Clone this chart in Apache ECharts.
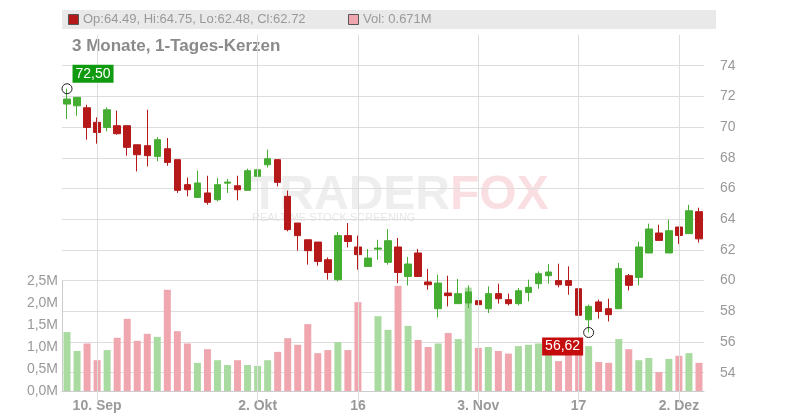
<!DOCTYPE html>
<html>
<head>
<meta charset="utf-8">
<script src="https://cdn.jsdelivr.net/npm/echarts@6/dist/echarts.min.js"></script>
<style>html,body{margin:0;padding:0;background:#fff}#container{width:800px;height:420px}</style>
</head>
<body>
<div id="container"></div>
<script>
// trading days, one slot per candle
const dates = ['05.09','08.09','09.09','10.09','11.09','12.09','15.09','16.09','17.09','18.09',
    '19.09','22.09','23.09','24.09','25.09','26.09','29.09','30.09','01.10','02.10',
    '03.10','06.10','07.10','08.10','09.10','10.10','13.10','14.10','15.10','16.10',
    '17.10','20.10','21.10','22.10','23.10','24.10','27.10','28.10','29.10','30.10',
    '31.10','03.11','04.11','05.11','06.11','07.11','10.11','11.11','12.11','13.11',
    '14.11','17.11','18.11','19.11','20.11','21.11','24.11','25.11','26.11','28.11',
    '01.12','02.12','03.12','04.12'];
const tickLabels = {'10.09': '10. Sep', '02.10': '2. Okt', '16.10': '16', '03.11': '3. Nov', '17.11': '17', '02.12': '2. Dez'};
// [open, close, low, high]
const ohlc = [
    [71.50, 71.83, 70.53, 72.50], [71.39, 71.94, 70.74, 71.94], [71.26, 69.98, 69.18, 71.46], [70.31, 69.65, 68.92, 70.63],
    [69.98, 71.13, 69.72, 71.28], [70.09, 69.57, 69.50, 71.07], [70.09, 68.68, 68.14, 70.09], [68.85, 68.20, 67.11, 68.85],
    [68.79, 68.14, 67.44, 71.13], [68.09, 69.18, 67.77, 69.35], [68.59, 67.70, 67.48, 69.29], [67.88, 65.88, 65.71, 67.88],
    [66.25, 65.92, 65.49, 66.72], [65.42, 66.36, 65.42, 67.16], [65.71, 65.10, 64.94, 66.83], [65.27, 66.25, 65.16, 66.68],
    [66.35, 66.42, 65.71, 66.62], [66.18, 65.92, 65.23, 66.83], [65.88, 67.16, 65.88, 67.29], [66.79, 67.22, 66.14, 67.22],
    [67.55, 67.94, 67.37, 68.53], [67.88, 66.40, 66.14, 67.88], [65.49, 63.32, 63.21, 65.86], [63.75, 62.93, 61.95, 63.75],
    [62.66, 61.95, 61.04, 62.66], [62.51, 61.25, 60.97, 62.51], [61.36, 60.53, 60.06, 61.51], [60.06, 62.93, 59.95, 63.17],
    [62.93, 62.55, 62.16, 63.75], [62.19, 61.69, 60.71, 62.93], [60.92, 61.47, 60.92, 62.06], [62.05, 62.12, 61.36, 62.66],
    [61.19, 62.60, 61.04, 63.36], [62.19, 60.53, 59.84, 62.78], [60.27, 61.08, 59.69, 61.54], [61.80, 60.27, 60.27, 62.06],
    [59.91, 59.73, 59.41, 60.76], [58.17, 59.84, 57.60, 60.38], [59.19, 59.02, 58.32, 60.32], [58.50, 59.15, 58.50, 60.10],
    [58.54, 59.26, 58.21, 59.69], [58.69, 58.43, 57.99, 58.87], [58.17, 59.15, 57.89, 59.62], [59.15, 58.82, 58.50, 59.80],
    [58.76, 58.50, 58.38, 59.15], [58.50, 59.34, 58.38, 59.52], [59.23, 59.56, 58.64, 60.06], [59.80, 60.45, 59.47, 60.60],
    [60.32, 60.56, 59.80, 61.08], [60.00, 59.73, 59.56, 61.10], [60.00, 59.69, 59.08, 60.93], [59.47, 57.74, 57.60, 59.67],
    [57.45, 58.32, 56.62, 58.43], [58.61, 57.99, 57.52, 58.76], [58.17, 57.78, 57.34, 58.82], [58.17, 60.78, 58.17, 61.15],
    [60.32, 59.69, 59.36, 60.43], [60.21, 62.19, 59.69, 62.53], [61.80, 63.36, 61.80, 63.71], [63.10, 62.62, 62.62, 63.64],
    [61.80, 63.25, 61.80, 63.97], [63.49, 62.94, 62.38, 63.49], [63.06, 64.55, 63.06, 64.94], [64.49, 62.72, 62.48, 64.75]
];
// volume in millions (slot 30 has none)
const volume = [1.34, 0.91, 1.08, 0.70, 0.93, 1.21, 1.64, 1.14, 1.30, 1.23,
    2.30, 1.36, 1.08, 0.64, 0.95, 0.70, 0.59, 0.70, 0.59, 0.57,
    0.70, 0.89, 1.20, 1.05, 1.52, 0.86, 0.93, 1.11, 0.93, 2.02,
    null, 1.70, 1.39, 2.39, 1.48, 1.16, 1.00, 1.08, 1.32, 1.18,
    2.35, 0.98, 1.00, 0.91, 0.85, 1.02, 1.05, 1.08, 1.00, 0.68,
    0.95, 1.05, 1.02, 0.66, 0.64, 1.18, 0.95, 0.70, 0.75, 0.43,
    0.73, 0.80, 0.86, 0.64];
const highIdx = 0, highVal = 72.50;
const lowIdx = 52, lowVal = 56.62;

const UP = '#46ad33', DOWN = '#b5191a';
const UP_VOL = '#a9dba1', DOWN_VOL = '#f0a6ae';

let dom = document.getElementById('container');
let myChart = echarts.init(dom);

const volData = volume.map(function (v, i) {
    return {
        value: v === null ? null : v * 1e6,
        itemStyle: {color: ohlc[i][1] >= ohlc[i][0] ? UP_VOL : DOWN_VOL}
    };
});
const gridMarks = dates.filter(function (d) { return tickLabels[d]; })
    .map(function (d) { return {xAxis: d}; });

const option = {
    animation: false,
    backgroundColor: '#fff',
    textStyle: {fontFamily: 'Liberation Sans, Arial, sans-serif'},
    graphic: [
        {type: 'rect', left: 62, top: 10, shape: {width: 654, height: 19}, style: {fill: '#e9e9e9'}, silent: true},
        {type: 'rect', left: 68, top: 14, shape: {width: 10, height: 10}, style: {fill: DOWN, stroke: '#555', lineWidth: 1}},
        {type: 'text', left: 83, top: 13, style: {text: 'Op:64.49, Hi:64.75, Lo:62.48, Cl:62.72', fill: '#999', font: '13px Liberation Sans'}},
        {type: 'rect', left: 348, top: 14, shape: {width: 10, height: 10}, style: {fill: DOWN_VOL, stroke: '#555', lineWidth: 1}},
        {type: 'text', left: 363, top: 13, style: {text: 'Vol: 0.671M', fill: '#999', font: '13px Liberation Sans'}},
        {type: 'text', left: 72, top: 38, style: {text: '3 Monate, 1-Tages-Kerzen', fill: '#8a8a8a', font: 'bold 17px Liberation Sans'}},
        {type: 'text', left: 250, top: 172, z: -1, style: {
            text: '{a|TRADER}{b|FOX}',
            rich: {
                a: {fill: 'rgba(205,205,205,0.35)', font: 'bold 48px Liberation Sans', letterSpacing: -2},
                b: {fill: 'rgba(240,150,160,0.3)', font: 'bold 48px Liberation Sans', letterSpacing: -2}
            }
        }},
        {type: 'text', left: 252, top: 212, z: -1, style: {text: 'REALTIME STOCK SCREENING', fill: 'rgba(200,200,200,0.45)', font: '11px Liberation Sans', letterSpacing: 2}}
    ],
    grid: [
        {left: 62, right: 96, top: 35, bottom: 16.6},
        {left: 62, right: 96, top: 281, bottom: 29}
    ],
    xAxis: [
        {type: 'category', data: dates, gridIndex: 0, show: false},
        {
            type: 'category', data: dates, gridIndex: 1,
            axisLine: {lineStyle: {color: '#ccc'}},
            axisTick: {show: false},
            axisLabel: {
                interval: 0, color: '#999', fontWeight: 'bold', fontSize: 14, margin: 8,
                formatter: function (d) { return tickLabels[d] || ''; }
            }
        }
    ],
    yAxis: [
        {
            type: 'value', gridIndex: 0, position: 'right', min: 52, max: 76, interval: 2,
            axisLine: {show: false}, axisTick: {show: false},
            axisLabel: {color: '#999', fontSize: 14, margin: 16, formatter: function (v) { return (v > 52 && v < 76) ? v : ''; }},
            splitLine: {lineStyle: {color: '#ddd'}, showMinLine: false, showMaxLine: false}
        },
        {
            type: 'value', gridIndex: 1, position: 'left', min: 0, max: 2.5e6, interval: 0.5e6,
            axisLine: {show: true, lineStyle: {color: '#ccc'}}, axisTick: {show: false}, splitLine: {show: false},
            axisLabel: {color: '#999', fontSize: 14, margin: 4, formatter: function (v) { return (v / 1e6).toFixed(1).replace('.', ',') + 'M'; }}
        }
    ],
    series: [
        {
            type: 'bar', xAxisIndex: 1, yAxisIndex: 1, data: volData, barWidth: 7, z: 1
        },
        {
            type: 'candlestick', xAxisIndex: 0, yAxisIndex: 0, data: ohlc, barWidth: 7, z: 3,
            itemStyle: {color: UP, color0: DOWN, borderColor: UP, borderColor0: DOWN, borderWidth: 1},
            markLine: {
                silent: true, symbol: 'none', label: {show: false},
                lineStyle: {color: '#ddd', type: 'solid', width: 1},
                data: gridMarks
            },
            markPoint: {
                symbol: 'circle', symbolSize: 10,
                itemStyle: {color: 'rgba(255,255,255,0)', borderColor: '#222', borderWidth: 1},
                data: [
                    {coord: [highIdx, highVal], value: highVal,
                        label: {show: true, position: 'right', offset: [-5, -15], formatter: '72,50', color: '#fff', fontSize: 14,
                            backgroundColor: '#109a10', padding: [2, 3]}},
                    {coord: [lowIdx, lowVal], value: lowVal,
                        label: {show: true, position: 'left', offset: [5, 14], formatter: '56,62', color: '#fff', fontSize: 14,
                            backgroundColor: '#c40c0c', padding: [2, 3]}}
                ]
            }
        }
    ]
};
myChart.setOption(option, true);
</script>
</body>
</html>
